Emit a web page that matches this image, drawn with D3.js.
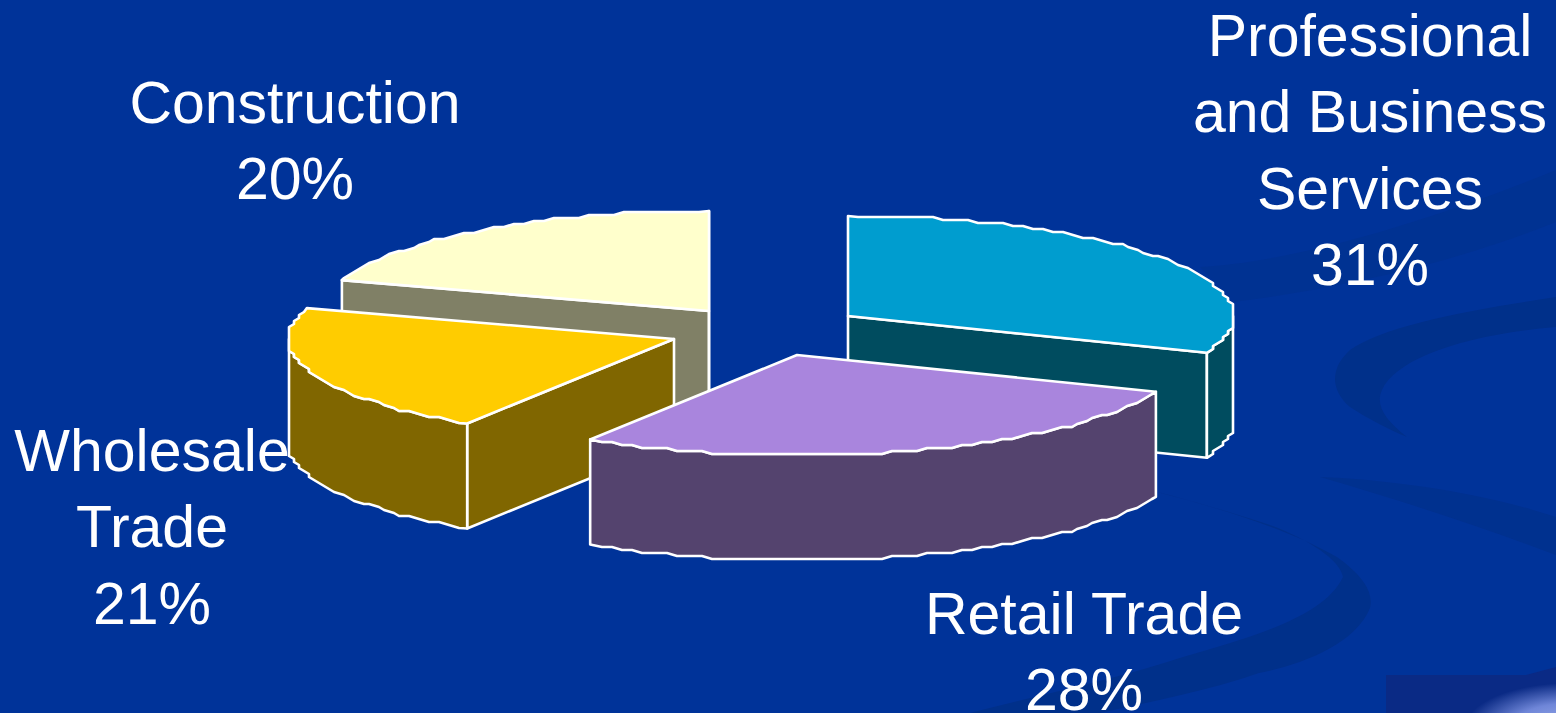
<!DOCTYPE html>
<html>
<head>
<meta charset="utf-8">
<script src="https://cdn.jsdelivr.net/npm/d3@7/dist/d3.min.js"></script>
<style>
html,body{margin:0;padding:0;background:#003399;overflow:hidden}
svg{display:block}
text{font-family:"Liberation Sans",Arial,sans-serif;fill:#fff;font-size:59px;text-anchor:middle}
</style>
</head>
<body>
<svg id="chart" width="1556" height="713"></svg>
<script>
// Employment share by sector
const categories = ["Professional and Business Services", "Retail Trade", "Wholesale Trade", "Construction"];
const shares = [31, 28, 21, 20];
const topColors = ["#009dcf", "#a985dd", "#ffcc00", "#ffffcc"];
const sideColors = ["#004c5f", "#54436e", "#806600", "#808066"];
const labelLines = [
  ["Professional", "and Business", "Services", "31%"],
  ["Retail Trade", "28%"],
  ["Wholesale", "Trade", "21%"],
  ["Construction", "20%"]
];

// Layout of the exploded pie: where each wedge's apex sits, and where its label starts
const apexes = [[848, 316], [797, 355], [674, 339], [709, 311]];
const labelAnchors = [[1370, 56], [1084, 634], [152, 471], [295, 123]];
const radiusX = 386, radiusY = 100, depth = 105, lineStep = 76.4;

const svg = d3.select("#chart");

// Unit-circle to screen offsets for the tilted pie
const sx = d3.scaleLinear().domain([-1, 1]).range([-radiusX, radiusX]);
const sy = d3.scaleLinear().domain([-1, 1]).range([-radiusY, radiusY]);
const line = d3.line();

// Faint swooshes on the slide background
const bg = svg.append("g");
bg.append("rect").attr("width", 1556).attr("height", 713).attr("fill", "#003399");
[
  ["M1200,267 C1290,262 1420,225 1556,170 L1556,222 C1450,265 1330,290 1233,302 Z", "#003292"],
  ["M1320,477 C1400,480 1490,495 1556,517 L1556,555 C1490,530 1400,500 1320,477 Z", "#00318f"],
  ["M1556,297 C1470,310 1385,325 1350,350 C1330,368 1330,390 1350,407 C1370,420 1390,430 1407,437 C1385,420 1375,405 1382,390 C1395,360 1460,335 1556,327 Z", "#00308a"],
  ["M1157,492 C1220,508 1290,530 1337,557 C1362,575 1374,592 1370,608 C1355,645 1300,665 1259,673 C1210,690 1150,702 1100,713 L970,713 C1040,695 1120,678 1183,657 C1260,635 1325,615 1343,577 C1340,560 1310,540 1270,525 C1230,512 1190,500 1157,492 Z", "#00308a"],
  ["M1556,667 L1526,675 L1556,675 Z", "#0a2a85"]
].forEach(([d, fill]) => bg.append("path").attr("d", d).attr("fill", fill));

// Corner block with a soft highlight
const glow = svg.append("defs").append("radialGradient").attr("id", "cornerGlow");
glow.append("stop").attr("offset", "0%").attr("stop-color", "#9fb0ea");
glow.append("stop").attr("offset", "55%").attr("stop-color", "#6f86d8");
glow.append("stop").attr("offset", "100%").attr("stop-color", "#0a2a85");
bg.append("rect").attr("x", 1386).attr("y", 675).attr("width", 170).attr("height", 38).attr("fill", "#0a2a85");
bg.append("clipPath").attr("id", "cornerClip").append("rect").attr("x", 1386).attr("y", 675).attr("width", 170).attr("height", 38);
bg.append("ellipse").attr("cx", 1570).attr("cy", 728).attr("rx", 105).attr("ry", 45)
  .attr("fill", "url(#cornerGlow)").attr("clip-path", "url(#cornerClip)");

const pie = d3.pie().sort(null);
const arcs = pie(shares);

const unit = a => [Math.sin(a), -Math.cos(a)];
const exact = a => { const [u, v] = unit(a); return [sx(u), sy(v)]; };

// Rim points between two angles on a shared angular grid, quantised so the curve
// has the slightly uneven look of a coarse polygon and walls line up with top faces
const rimStep = Math.PI / 100;
const snapped = a => {
  const [x, y] = exact(a);
  return [Math.round(x / 5) * 5, Math.round(y / 3) * 3];
};
function rim(a0, a1, slice) {
  const atEdge = a => Math.abs(a - slice.startAngle) < 1e-9 || Math.abs(a - slice.endAngle) < 1e-9;
  const inner = d3.range(Math.floor(a0 / rimStep) + 1, Math.ceil(a1 / rimStep)).map(k => k * rimStep)
    .filter(a => a > a0 + 1e-6 && a < a1 - 1e-6);
  const pts = [a0, ...inner, a1].map(a => atEdge(a) ? exact(a) : snapped(a));
  return pts.filter((p, i) => i === 0 || p[0] !== pts[i - 1][0] || p[1] !== pts[i - 1][1]);
}

function drawWedge(index) {
  const slice = arcs[index];
  const { startAngle: a0, endAngle: a1 } = slice;
  const g = svg.append("g").attr("transform", `translate(${apexes[index]})`);
  const style = sel => sel.attr("stroke", "#fff").attr("stroke-width", 2.6).attr("stroke-linejoin", "round");
  const wall = pts => style(g.append("path").attr("d", line(pts) + "Z").attr("fill", sideColors[index]));
  const drop = p => [p[0], p[1] + depth];

  // Flat cut faces that turn towards the viewer
  if (Math.cos(a0 - Math.PI / 2) < 0) {
    const p = exact(a0);
    wall([[0, 0], p, drop(p), [0, depth]]);
  }
  if (Math.cos(a1 + Math.PI / 2) <= 1e-9) {
    const p = exact(a1);
    wall([[0, 0], p, drop(p), [0, depth]]);
  }
  // Curved outer wall on the front half of the ellipse
  const front0 = Math.max(a0, Math.PI / 2), front1 = Math.min(a1, 3 * Math.PI / 2);
  if (front1 > front0) {
    const upper = rim(front0, front1, slice);
    wall(upper.concat(upper.map(drop).reverse()));
  }
  // Top face
  style(g.append("path").attr("d", line([[0, 0], ...rim(a0, a1, slice)]) + "Z").attr("fill", topColors[index]));
}

// Back wedges first so the nearer ones overlap them
[3, 0, 2, 1].forEach(drawWedge);

// Sector labels
labelLines.forEach((lines, i) => {
  const t = svg.append("text");
  lines.forEach((s, j) => {
    t.append("tspan").attr("x", labelAnchors[i][0]).attr("y", labelAnchors[i][1] + j * lineStep).text(s);
  });
});
</script>
</body>
</html>
